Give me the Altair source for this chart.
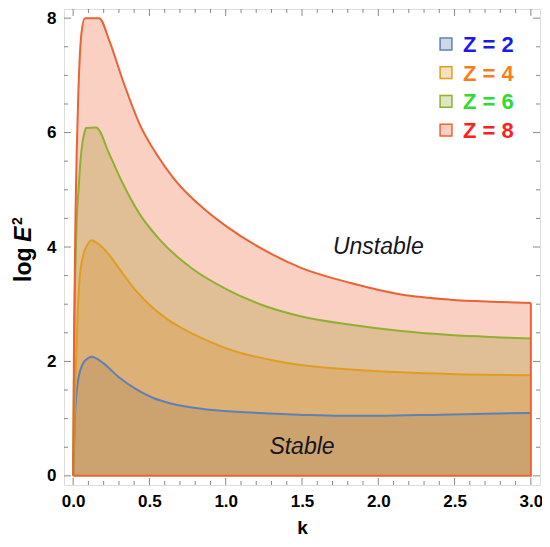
import altair as alt
import pandas as pd

# ---- data ----
k_z2 = [0.0, 0.011, 0.033, 0.066, 0.095, 0.12, 0.16, 0.197, 0.306, 0.415, 0.525, 0.634, 0.853, 1.07, 1.29, 1.48, 1.75, 2.0, 2.41, 3.0]
v_z2 = [0.0, 0.98, 1.68, 1.97, 2.05, 2.08, 2.04, 1.97, 1.71, 1.51, 1.36, 1.27, 1.17, 1.12, 1.09, 1.07, 1.05, 1.05, 1.07, 1.10]

k_z4 = [0.0, 0.008, 0.015, 0.04, 0.065, 0.09, 0.118, 0.173, 0.24, 0.30, 0.36, 0.42, 0.50, 0.60, 0.70, 0.85, 1.07, 1.29, 1.48, 1.82, 2.15, 2.47, 3.0]
v_z4 = [0.0, 0.9, 1.62, 3.37, 3.85, 4.02, 4.12, 4.04, 3.85, 3.63, 3.41, 3.21, 2.99, 2.77, 2.60, 2.40, 2.17, 2.03, 1.94, 1.86, 1.81, 1.78, 1.76]

k_z6 = [0.0, 0.008, 0.02, 0.037, 0.055, 0.074, 0.085, 0.15, 0.238, 0.327, 0.437, 0.567, 0.786, 1.006, 1.225, 1.49, 1.82, 2.15, 2.47, 2.80, 3.0]
v_z6 = [0.0, 2.5, 4.2, 5.07, 5.7, 6.0, 6.08, 6.09, 5.62, 5.10, 4.57, 4.13, 3.61, 3.26, 3.0, 2.79, 2.64, 2.53, 2.46, 2.42, 2.40]

k_z8 = [0.0, 0.006, 0.017, 0.033, 0.055, 0.077, 0.17, 0.238, 0.327, 0.437, 0.547, 0.656, 0.765, 0.874, 1.0, 1.25, 1.49, 1.82, 2.15, 2.47, 2.80, 3.0]
v_z8 = [0.0, 2.5, 4.8, 6.6, 7.75, 8.0, 8.0, 7.6, 6.9, 6.14, 5.62, 5.21, 4.89, 4.63, 4.37, 3.95, 3.64, 3.37, 3.17, 3.08, 3.04, 3.02]

series_names = ["Z = 2", "Z = 4", "Z = 6", "Z = 8"]
series_k = [k_z2, k_z4, k_z6, k_z8]
series_v = [v_z2, v_z4, v_z6, v_z8]
line_colors = ["#5E81B5", "#E19C24", "#8FB032", "#EB6235"]
label_colors = ["#1a1aee", "#fb7d1e", "#2fdc2f", "#ff2020"]

# closing edge of the Z = 8 region (right side and bottom)
edge_k = [3.0, 3.0, 0.0]
edge_v = [3.02, 0.0, 0.0]

x_major = [0.0, 0.5, 1.0, 1.5, 2.0, 2.5, 3.0]
x_minor = [round(i * 0.1, 1) for i in range(31) if i % 5 != 0]
y_major = [0, 2, 4, 6, 8]
y_minor = [0.5 * i for i in range(17) if i % 4 != 0]

FONT = "Liberation Sans"
W, H = 476, 476
FRAME = "#8a8a8a"

xs = alt.Scale(domain=[-0.06, 3.06], nice=False, zero=False)
ys = alt.Scale(domain=[-0.16, 8.16], nice=False, zero=False)

xax = alt.Axis(values=x_major, format=".1f", ticks=False, domain=False, grid=False,
               labelFont=FONT, labelFontSize=17, labelFontWeight="bold", labelColor="black",
               labelPadding=8, title="k", titleFont=FONT, titleFontSize=19,
               titleFontWeight="bold", titleColor="black", titlePadding=9)
yax = alt.Axis(values=y_major, format="d", ticks=False, domain=False, grid=False,
               labelFont=FONT, labelFontSize=17, labelFontWeight="bold", labelColor="black",
               labelPadding=8, title="")

layers = []
# fills: blue first, red on top
for name, ks, vs, c in zip(series_names, series_k, series_v, line_colors):
    df = pd.DataFrame({"k": ks, "v": vs})
    layers.append(
        alt.Chart(df).mark_area(color=c, opacity=0.3, interpolate="monotone").encode(
            x=alt.X("k:Q", scale=xs, axis=xax),
            y=alt.Y("v:Q", scale=ys, axis=yax),
            y2=alt.datum(0),
        )
    )
# outlines
for name, ks, vs, c in zip(series_names, series_k, series_v, line_colors):
    df = pd.DataFrame({"k": ks, "v": vs})
    layers.append(
        alt.Chart(df).mark_line(color=c, strokeWidth=2, interpolate="monotone").encode(
            x="k:Q", y="v:Q"
        )
    )
edge_df = pd.DataFrame({"k": edge_k, "v": edge_v, "o": list(range(len(edge_k)))})
layers.append(
    alt.Chart(edge_df).mark_line(color=line_colors[3], strokeWidth=2).encode(
        x="k:Q", y="v:Q", order="o:Q"
    )
)

# frame ticks (inward)
def xticks(vals, length):
    d = pd.DataFrame({"t": vals})
    bot = alt.Chart(d).mark_rule(color=FRAME, strokeWidth=1).encode(
        x="t:Q", y=alt.value(H), y2=alt.value(H - length))
    top = alt.Chart(d).mark_rule(color=FRAME, strokeWidth=1).encode(
        x="t:Q", y=alt.value(0), y2=alt.value(length))
    return [bot, top]

def yticks(vals, length):
    d = pd.DataFrame({"t": vals})
    left = alt.Chart(d).mark_rule(color=FRAME, strokeWidth=1).encode(
        y="t:Q", x=alt.value(0), x2=alt.value(length))
    right = alt.Chart(d).mark_rule(color=FRAME, strokeWidth=1).encode(
        y="t:Q", x=alt.value(W), x2=alt.value(W - length))
    return [left, right]

layers += xticks(x_major, 7) + xticks(x_minor, 4) + yticks(y_major, 7) + yticks(y_minor, 4)

# region labels
lab_df = pd.DataFrame({"k": [2.0, 1.5], "v": [4.0, 0.51], "t": ["Unstable", "Stable"]})
layers.append(
    alt.Chart(lab_df).mark_text(font=FONT, fontSize=23, fontStyle="italic",
                                color="#151520", baseline="middle").encode(
        x="k:Q", y="v:Q", text="t:N")
)

# y-axis title: "log E^2" with italic E and superscript 2 (rotated)
one = pd.DataFrame({"a": [0]})
title_parts = [("log", 23, "normal", -33, 273), ("E", 23, "italic", -33, 233), ("2", 14, "normal", -42, 216)]
for txt, fs, style, px, py in title_parts:
    layers.append(
        alt.Chart(one).mark_text(text=txt, font=FONT, fontSize=fs, fontWeight="bold",
                                 fontStyle=style, color="black", angle=270,
                                 align="left", baseline="alphabetic").encode(
            x=alt.value(px), y=alt.value(py))
    )

# legend
for i, (name, c, lc) in enumerate(zip(series_names, line_colors, label_colors)):
    yy = 35 + 28.7 * i
    layers.append(
        alt.Chart(one).mark_square(size=140, fill=c, fillOpacity=0.3, stroke=c,
                                   strokeWidth=1.5, opacity=1).encode(
            x=alt.value(382), y=alt.value(yy))
    )
    layers.append(
        alt.Chart(one).mark_text(text=name, font=FONT, fontSize=22, fontWeight="bold",
                                 color=lc, align="left", baseline="middle").encode(
            x=alt.value(399), y=alt.value(yy + 1))
    )

chart = alt.layer(*layers).properties(
    width=W, height=H,
    autosize=alt.AutoSizeParams(type="none"),
    padding={"left": 56, "top": 1, "right": 2, "bottom": 53},
).configure_view(stroke=FRAME, strokeWidth=1).configure(background="white")

chart.save("out.html", embed_options={"renderer": "svg", "actions": False})
